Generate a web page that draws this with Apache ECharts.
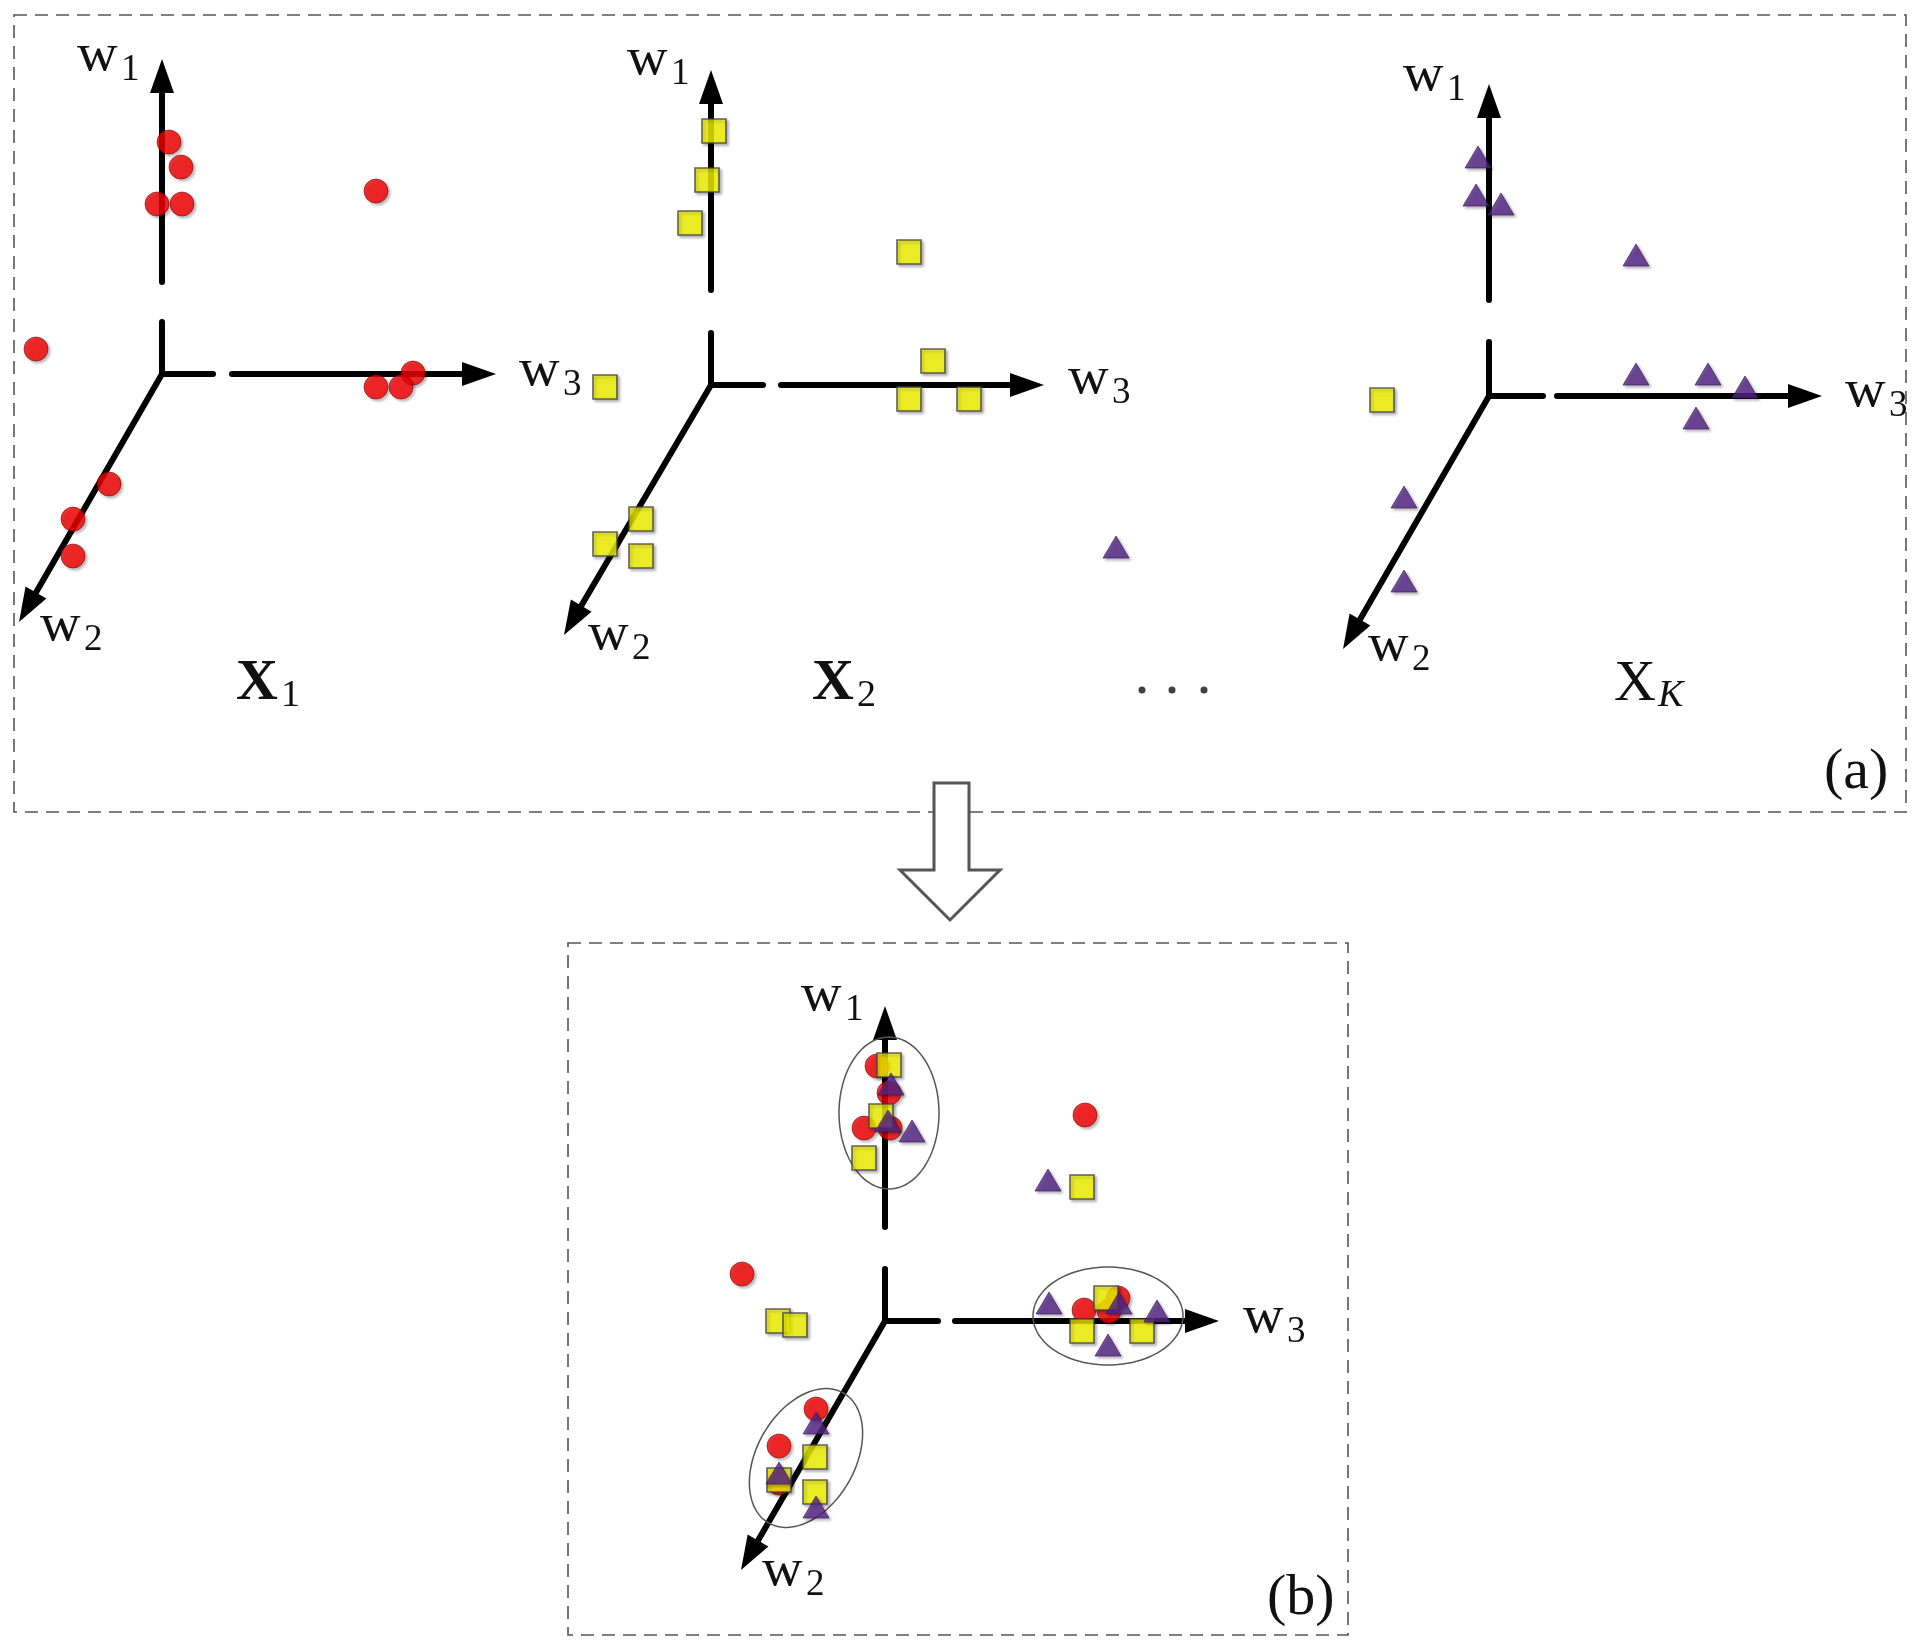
<!DOCTYPE html>
<html>
<head>
<meta charset="utf-8">
<script src="https://cdn.jsdelivr.net/npm/echarts@6/dist/echarts.min.js"></script>
<style>
html,body{margin:0;padding:0;background:#ffffff;}
#chart{width:1920px;height:1648px;}
</style>
</head>
<body>
<div id="chart"></div>
<script>
// ---------------- data (diagram coordinates) ----------------
const redCircles = [
  // panel X1
  [169,142],[181,167],[157,204],[182,204],[376,191],[36,349],[413,373],[376,387],[401,387],[109,484],[73,519],[73,556],
  // panel (b)
  [877,1066],[889,1093],[864,1128],[890,1128],[1085,1115],[742,1274],[1118,1298],[1084,1310],[1109,1311],[816,1409],[779,1446],[779,1483]
];
const yellowSquares = [
  // panel X2 (+ one in X_K)
  [714,131],[707,180],[690,223],[909,252],[933,361],[909,399],[969,399],[605,387],[641,519],[605,544],[641,556],[1382,400],
  // panel (b)
  [889,1065],[881,1116],[864,1158],[1082,1187],[778,1321],[795,1325],[1106,1298],[1082,1331],[1142,1331],[815,1457],[779,1480],[815,1492]
];
const purpleTriangles = [
  // panel X_K (+ one in X2)
  [1116,547],[1478,157],[1476,195],[1501,204],[1636,255],[1636,374],[1708,374],[1745,387],[1696,418],[1404,497],[1404,581],
  // panel (b)
  [891,1084],[888,1121],[912,1131],[1048,1180],[1049,1303],[1119,1303],[1157,1311],[1108,1345],[816,1423],[779,1473],[816,1507]
];
const ellipseCenters = [[889,1113],[1108,1316],[806,1458]];
const ellipseRadii = [[50,76],[75,49],[49,75]];
const ellipseAngles = [0,0,30];

const axisOrigins = [[162,374],[711,385],[1489,396],[885,1321]];
const w1Tips = [[162,59],[711,70],[1489,84],[885,1006]];
const w3Tips = [[496,374],[1044,385],[1822,396],[1219,1321]];
const w2Tips = [[19,622],[564,635],[1343,649],[741,1570]];
const w1Gaps = [[285,319],[293,330],[303,339],[1230,1266]];
const w3Gaps = [[216,229],[766,778],[1546,1554],[941,952]];

const panelBoxes = [[14,15,1906,812],[568,943,1348,1635]];
const bigArrow = [[934,783],[969,783],[969,870],[1000,870],[950,920],[900,870],[934,870]];
const ellipsisDots = [[1142,690],[1172,690],[1204,690]];

const axisNames = ['w','w','w'];
const axisSubs = ['1','2','3'];
const w1LabelPos = [[77,74],[627,78],[1403,94],[801,1014]];
const w2LabelPos = [[40,644],[588,653],[1368,664],[762,1589]];
const w3LabelPos = [[519,389],[1068,397],[1845,410],[1243,1336]];

const titleBases = ['X','X','X'];
const titleSubs = ['1','2','K'];
const titleBold = [true,true,false];
const titlePos = [[236,704],[812,704],[1614,704]];
const panelTags = ['(a)','(b)'];
const panelTagPos = [[1824,792],[1267,1618]];

// ---------------- build label table ----------------
const FONT = '"Liberation Serif", serif';
const labelItems = [];
function addAxisLabels(posArr, k) {
  posArr.forEach(p => labelItems.push({pos:p, base:axisNames[k], sub:axisSubs[k], fs:52, sfs:37, dx:44, dy:9, weight:'normal', subItalic:false, sx:1.08}));
}
addAxisLabels(w1LabelPos, 0);
addAxisLabels(w2LabelPos, 1);
addAxisLabels(w3LabelPos, 2);
titlePos.forEach((p,i) => labelItems.push({pos:p, base:titleBases[i], sub:titleSubs[i], fs:58, sfs:38, dx:titleBold[i]?45:44, dy:5, weight:titleBold[i]?'bold':'normal', subItalic:titleSubs[i]==='K', sx:1}));
panelTagPos.forEach((p,i) => labelItems.push({pos:p, base:panelTags[i], sub:'', fs:58, sfs:0, dx:0, dy:0, weight:'normal', subItalic:false, sx:1}));

function textEl(px, py, str, fs, weight, italic, sx) {
  return {
    type:'text', x:px, y:py - 0.3375*fs, scaleX:sx||1,
    style:{text:str, fill:'#111111', font:(italic?'italic ':'') + weight + ' ' + fs + 'px ' + FONT, align:'left', verticalAlign:'middle'}
  };
}

const chart = echarts.init(document.getElementById('chart'), null, {renderer:'canvas'});

const lineStyle = {stroke:'#000000', lineWidth:6, lineCap:'round'};
function seg(a, b) {
  return {type:'line', shape:{x1:a[0], y1:a[1], x2:b[0], y2:b[1]}, style:lineStyle};
}
function shrink(a, b, s) { // move a toward b by s
  const dx = b[0]-a[0], dy = b[1]-a[1], L = Math.hypot(dx,dy);
  return [a[0]+dx/L*s, a[1]+dy/L*s];
}
function arrowed(S, T) {
  const HL = 34, HW = 24;
  const dx = T[0]-S[0], dy = T[1]-S[1], L = Math.hypot(dx,dy);
  const ux = dx/L, uy = dy/L, nx = -uy, ny = ux;
  const B = [T[0]-ux*HL, T[1]-uy*HL];
  return [
    seg(S, [B[0]+ux*2, B[1]+uy*2]),
    {type:'polygon', shape:{points:[[T[0],T[1]],[B[0]+nx*HW/2,B[1]+ny*HW/2],[B[0]-nx*HW/2,B[1]-ny*HW/2]]}, style:{fill:'#000000'}}
  ];
}

const markerShadow = {shadowColor:'rgba(0,0,0,0.35)', shadowBlur:3, shadowOffsetX:2, shadowOffsetY:2};

chart.setOption({
  animation:false,
  grid:{left:0, right:0, top:0, bottom:0},
  xAxis:{type:'value', min:0, max:1920, show:false},
  yAxis:{type:'value', min:0, max:1648, inverse:true, show:false},
  series:[
    { // dashed panel boxes
      type:'custom', z:1, silent:true, data:panelBoxes,
      renderItem:(params, api) => {
        const b = panelBoxes[params.dataIndex];
        const p1 = api.coord([b[0],b[1]]), p2 = api.coord([b[2],b[3]]);
        return {type:'rect', shape:{x:p1[0], y:p1[1], width:p2[0]-p1[0], height:p2[1]-p1[1]},
          style:{fill:'none', stroke:'#555555', lineWidth:1.6, lineDash:[13,8]}};
      }
    },
    { // big hollow arrow between panels
      type:'custom', z:2, silent:true, data:[[0,0]],
      renderItem:(params, api) => ({
        type:'polygon', shape:{points:bigArrow.map(p => api.coord(p))},
        style:{fill:'#ffffff', stroke:'#555555', lineWidth:3, lineJoin:'miter'}
      })
    },
    { // coordinate axes
      type:'custom', z:3, silent:true, data:axisOrigins,
      renderItem:(params, api) => {
        const i = params.dataIndex;
        const o = axisOrigins[i];
        const O = api.coord(o);
        const T1 = api.coord(w1Tips[i]), T2 = api.coord(w2Tips[i]), T3 = api.coord(w3Tips[i]);
        const g1top = api.coord([o[0], w1Gaps[i][0]]), g1bot = api.coord([o[0], w1Gaps[i][1]]);
        const g3a = api.coord([w3Gaps[i][0], o[1]]), g3b = api.coord([w3Gaps[i][1], o[1]]);
        const children = [];
        children.push(seg(O, shrink(g1bot, O, 3)));
        arrowed(shrink(g1top, T1, 3), T1).forEach(c => children.push(c));
        children.push(seg(O, shrink(g3a, O, 3)));
        arrowed(shrink(g3b, T3, 3), T3).forEach(c => children.push(c));
        arrowed(O, T2).forEach(c => children.push(c));
        return {type:'group', children};
      }
    },
    { // cluster ellipses
      type:'custom', z:4, silent:true, data:ellipseCenters,
      renderItem:(params, api) => {
        const i = params.dataIndex;
        const c = ellipseCenters[i], r = ellipseRadii[i], a = ellipseAngles[i]*Math.PI/180;
        const pts = [];
        for (let k = 0; k < 96; k++) {
          const t = 2*Math.PI*k/96;
          const dx = r[0]*Math.cos(t), dy = r[1]*Math.sin(t);
          pts.push(api.coord([c[0] + dx*Math.cos(a) - dy*Math.sin(a), c[1] + dx*Math.sin(a) + dy*Math.cos(a)]));
        }
        return {type:'polygon', shape:{points:pts}, style:{fill:'none', stroke:'#555555', lineWidth:1.5}};
      }
    },
    {
      type:'scatter', z:5, silent:true, data:redCircles, symbol:'circle', symbolSize:24,
      itemStyle:Object.assign({color:'#f80000', borderColor:'rgba(110,0,0,0.7)', borderWidth:1}, markerShadow)
    },
    {
      type:'scatter', z:6, silent:true, data:yellowSquares, symbol:'rect', symbolSize:24,
      itemStyle:Object.assign({color:'#f7f700', borderColor:'#3c3c46', borderWidth:1.6}, markerShadow)
    },
    {
      type:'scatter', z:7, silent:true, data:purpleTriangles, symbol:'triangle', symbolSize:[26,22],
      itemStyle:Object.assign({color:'#552688', borderColor:'#361657', borderWidth:0.8}, markerShadow)
    },
    {
      type:'scatter', z:7, silent:true, data:ellipsisDots, symbol:'circle', symbolSize:7,
      itemStyle:{color:'#111111'}
    },
    { // text labels
      type:'custom', z:8, silent:true, data:labelItems.map(l => l.pos),
      renderItem:(params, api) => {
        const l = labelItems[params.dataIndex];
        const p = api.coord(l.pos);
        const children = [textEl(p[0], p[1], l.base, l.fs, l.weight, false, l.sx)];
        if (l.sub) children.push(textEl(p[0] + l.dx, p[1] + l.dy, l.sub, l.sfs, 'normal', l.subItalic, 1));
        return {type:'group', children};
      }
    }
  ]
});
</script>
</body>
</html>
